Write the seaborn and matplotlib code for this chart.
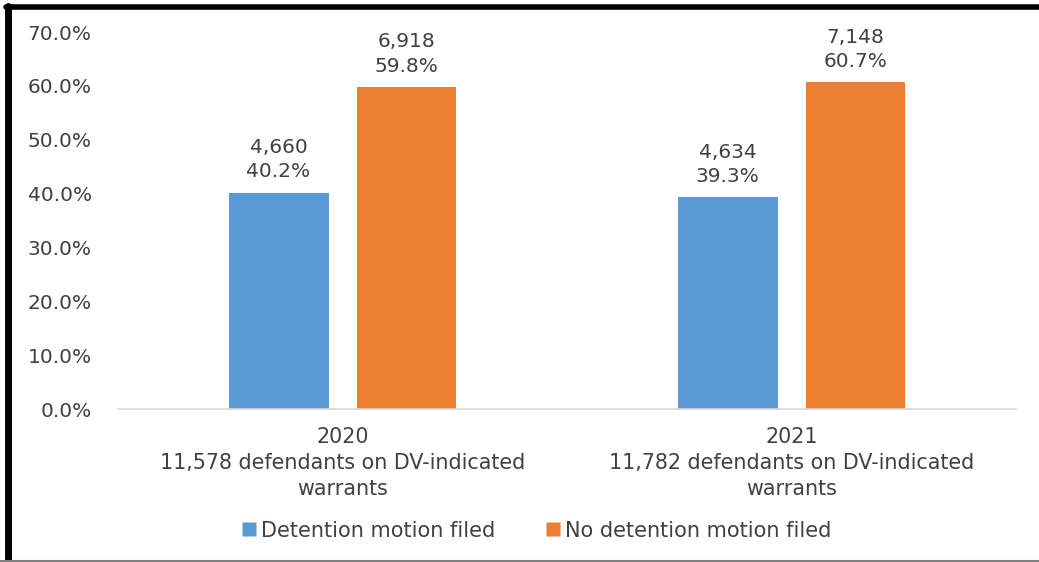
import pandas as pd
import seaborn as sns
import matplotlib.pyplot as plt
from matplotlib.lines import Line2D

# dados
anos = ['2020\n11,578 defendants on DV-indicated\nwarrants',
        '2021\n11,782 defendants on DV-indicated\nwarrants']
series = ['Detention motion filed', 'No detention motion filed']
percentuais = {
    'Detention motion filed': [40.2, 39.3],
    'No detention motion filed': [59.8, 60.7],
}
contagens = {
    'Detention motion filed': ['4,660', '4,634'],
    'No detention motion filed': ['6,918', '7,148'],
}
yticks = [0, 10, 20, 30, 40, 50, 60, 70]

cores = ['#5b9bd5', '#ed7d31']

linhas = []
for s in series:
    for a, p, c in zip(anos, percentuais[s], contagens[s]):
        linhas.append({'Ano': a, 'Serie': s, 'Pct': p, 'N': c})
df = pd.DataFrame(linhas)

sns.set_theme(style='white')
plt.rcParams['font.family'] = ['DejaVu Sans']
cor_texto = '#404040'
fs = 14.5

fig = plt.figure(figsize=(10.39, 5.62), dpi=100)
ax = fig.add_axes([0.1136, 0.272, 0.8643, 0.671])

sns.barplot(data=df, x='Ano', y='Pct', hue='Serie', order=anos, hue_order=series,
            palette=cores, width=0.57, gap=0.219, ax=ax, saturation=1,
            edgecolor='none', legend=False)

# rótulos de dados
for cont, s in zip(ax.containers, series):
    rotulos = [f'{n}\n{p:.1f}%' for n, p in zip(contagens[s], percentuais[s])]
    ax.bar_label(cont, labels=rotulos, padding=8, fontsize=fs, color=cor_texto,
                 linespacing=1.36)

ax.set_ylim(0, 70)
ax.set_yticks(yticks)
ax.set_yticklabels([f'{v:.1f}%' for v in yticks], fontsize=fs, color=cor_texto)
ax.set_xticklabels(anos, fontsize=14.9, color=cor_texto, linespacing=1.37)
ax.set_xlabel('')
ax.set_ylabel('')
ax.tick_params(axis='both', length=0)
ax.tick_params(axis='x', pad=13)
ax.tick_params(axis='y', pad=19)
for lado in ['top', 'right', 'left']:
    ax.spines[lado].set_visible(False)
ax.spines['bottom'].set_color('#d9d9d9')
ax.spines['bottom'].set_linewidth(1.2)

# legenda
handles = [Line2D([0], [0], marker='s', linestyle='none', markersize=9.5,
                  markerfacecolor=c, markeredgecolor='none') for c in cores]
fig.legend(handles, series, loc='center', bbox_to_anchor=(0.516, 0.056), ncol=2,
           frameon=False, fontsize=15, handlelength=0.8, handletextpad=0.15,
           columnspacing=2.4, labelcolor=cor_texto)

# moldura
fig.add_artist(Line2D([0.008, 0.008], [0.0, 0.99], color='black', linewidth=5,
                      transform=fig.transFigure))
fig.add_artist(Line2D([0.006, 1.0], [0.988, 0.988], color='black', linewidth=4,
                      transform=fig.transFigure))
fig.add_artist(Line2D([0.0, 1.0], [0.002, 0.002], color='#808080', linewidth=1.5,
                      transform=fig.transFigure))

fig.savefig('out.png', dpi=100, facecolor='white')
